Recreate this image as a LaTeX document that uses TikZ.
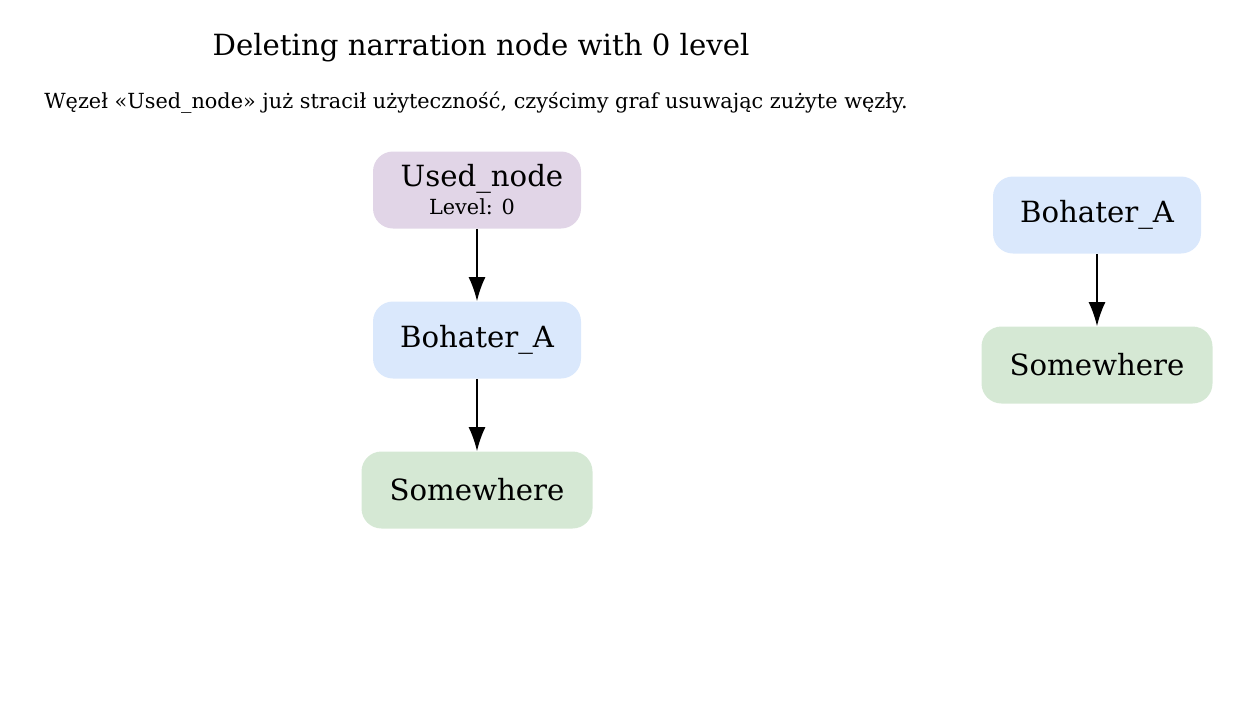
\documentclass[tikz,border=0pt]{standalone}
\usepackage{fontspec}
\setmainfont{DejaVu Serif}
\usetikzlibrary{arrows.meta}
\definecolor{usedfill}{HTML}{E1D5E7}
\definecolor{herofill}{HTML}{DAE8FC}
\definecolor{placefill}{HTML}{D5E8D4}
\tikzset{
    block/.style = {rectangle, rounded corners=10pt,
        minimum height=38.5pt,
        minimum width=104pt, font=\fontsize{14.6}{17}\selectfont},
    used/.style = {block, fill=usedfill, align=center, inner sep=2pt},
    hero/.style = {block, fill=herofill},
    place/.style = {block, fill=placefill, minimum width=115.5pt},
    arrow/.style = {draw, thick, -{Latex[length=12pt,width=8.5pt]}}
}
\begin{document}
\begin{tikzpicture}[x=0.5pt, y=-0.5pt]
                \useasboundingbox (0,0) rectangle (1241,707);
                \node[font=\fontsize{14.6}{17}\selectfont] (title) at (481,48) {Deleting narration node with 0 level};
                \node[font=\fontsize{10.4}{12}\selectfont] (subtitle) at (476,103) {Węzeł «Used\_node» już stracił użyteczność, czyścimy graf usuwając zużyte węzły.};
                \node[used] (used) at (477,190) {\hspace*{5pt}Used\_node\\[-3pt]{\fontsize{10.4}{12}\selectfont Level: 0\hspace*{5pt}}};
                \node[hero] (heroL) at (477,340) {Bohater\_A};
                \node[place] (placeL) at (477,490) {Somewhere};
                \node[hero] (heroR) at (1097,215) {Bohater\_A};
                \node[place] (placeR) at (1097,365) {Somewhere};
                \draw [arrow] (used) -- (heroL);
                \draw [arrow] (heroL) -- (placeL);
                \draw [arrow] (heroR) -- (placeR);
            \end{tikzpicture}
\end{document}
